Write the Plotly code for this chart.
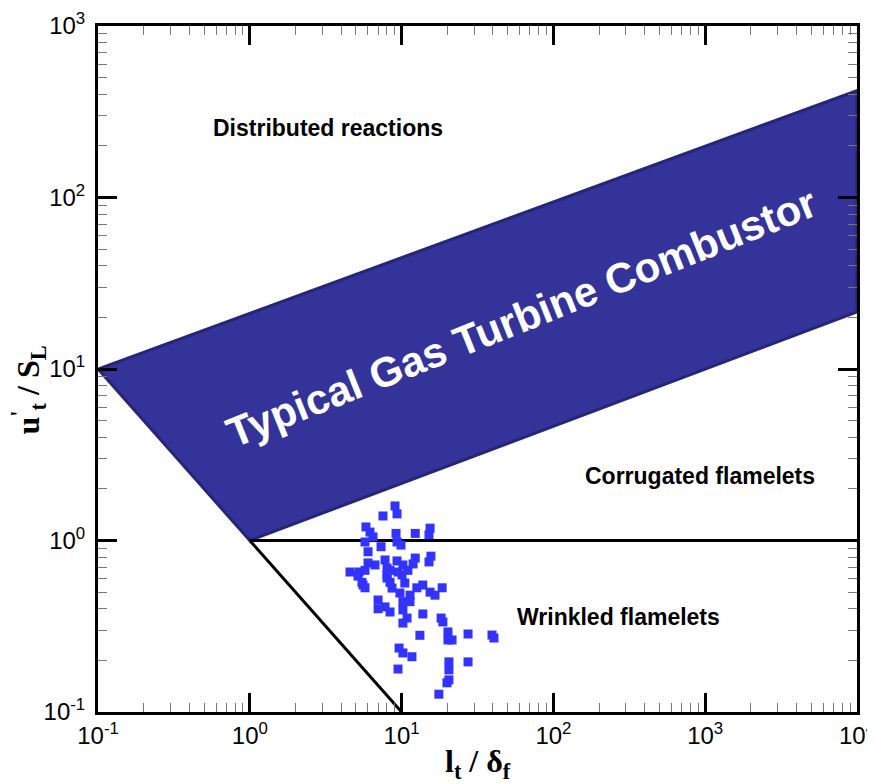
import plotly.graph_objects as go

# ---- data ----
region_x = [0.1, 1, 1e4, 1e4, 0.1]
region_y = [10, 1, 21.5, 420, 10]

flamelet_line_x = [1, 1e4]
flamelet_line_y = [1, 1]

wrinkled_line_x = [1, 10]
wrinkled_line_y = [1, 0.1]

pts_x = [9.05, 9.33, 7.54, 5.82, 6.19, 6.48, 9.19, 9.33, 12.3, 15.4, 15.15, 5.74, 7.32, 9.91,
         6.01, 12.3, 11.9, 15.6, 15.15, 6.01, 7.78, 8.02, 9.33, 6.68, 10.2, 11.0, 4.57, 5.24,
         5.74, 8.39, 9.47, 5.16, 5.48, 5.74, 8.02, 8.39, 10.06, 10.5, 12.6, 13.8, 15.4, 16.6,
         18.5, 7.0, 7.0, 7.78, 8.39, 9.75, 11.36, 11.36, 10.2, 10.2, 10.86, 10.2, 13.8, 18.2,
         18.7, 13.2, 20.2, 20.2, 21.5, 27.4, 39.4, 40.6, 9.62, 10.2, 11.7, 20.5, 20.5, 27.4,
         9.47, 20.5, 19.9, 17.6, 8.65, 5.57, 8.02]
pts_y = [1.59, 1.43, 1.39, 1.20, 1.12, 1.05, 1.10, 0.98, 1.10, 1.18, 1.08, 0.98, 0.92, 0.94,
         0.86, 0.79, 0.73, 0.81, 0.75, 0.74, 0.77, 0.69, 0.76, 0.72, 0.72, 0.67, 0.655, 0.655,
         0.67, 0.67, 0.655, 0.62, 0.57, 0.53, 0.63, 0.57, 0.63, 0.565, 0.53, 0.55, 0.50, 0.48,
         0.53, 0.45, 0.40, 0.41, 0.383, 0.494, 0.48, 0.44, 0.44, 0.394, 0.353, 0.33, 0.373, 0.353,
         0.335, 0.28, 0.293, 0.263, 0.263, 0.285, 0.281, 0.27, 0.236, 0.221, 0.21, 0.196, 0.176, 0.196,
         0.178, 0.154, 0.148, 0.127, 0.528, 0.55, 0.604]

x_tickvals = [0.1, 1, 10, 100, 1000, 10000]
x_ticktext = ["10<sup>-1</sup>", "10<sup>0</sup>", "10<sup>1</sup>", "10<sup>2</sup>",
              "10<sup>3</sup>", "10<sup>4</sup>"]
y_tickvals = [0.1, 1, 10, 100, 1000]
y_ticktext = ["10<sup>-1</sup>", "10<sup>0</sup>", "10<sup>1</sup>", "10<sup>2</sup>",
              "10<sup>3</sup>"]

minor_x = [k * 10.0 ** e for e in range(-1, 4) for k in range(2, 10)]
minor_y = [k * 10.0 ** e for e in range(-1, 3) for k in range(2, 10)]

fig = go.Figure()

fig.add_trace(go.Scatter(
    x=region_x, y=region_y, mode="lines", fill="toself",
    fillcolor="#333399", line=dict(color="#25257a", width=3),
    hoverinfo="skip", showlegend=False))

fig.add_trace(go.Scatter(
    x=flamelet_line_x, y=flamelet_line_y, mode="lines",
    line=dict(color="black", width=3), showlegend=False))
fig.add_trace(go.Scatter(
    x=wrinkled_line_x, y=wrinkled_line_y, mode="lines",
    line=dict(color="black", width=3), showlegend=False))

fig.add_trace(go.Scatter(
    x=pts_x, y=pts_y, mode="markers",
    marker=dict(symbol="square", size=9, color="#3333ff", line=dict(width=0)),
    showlegend=False))

axis_common = dict(
    type="log", showgrid=False, zeroline=False,
    showline=True, linewidth=3, linecolor="black", mirror="ticks",
    ticks="inside", ticklen=19, tickwidth=3, tickcolor="black",
    tickfont=dict(family="Liberation Sans, Arial", size=24, color="black"),
    ticklabeloverflow="allow", automargin=False,
)

fig.update_xaxes(
    **axis_common, range=[-1, 4], tickmode="array",
    tickvals=x_tickvals, ticktext=x_ticktext, ticklabelstandoff=0,
    minor=dict(tickmode="array", tickvals=minor_x, ticks="inside",
               ticklen=9, tickwidth=1, tickcolor="#777777"))
fig.update_yaxes(
    **axis_common, range=[-1, 3], tickmode="array",
    tickvals=y_tickvals, ticktext=y_ticktext, ticklabelstandoff=5,
    minor=dict(tickmode="array", tickvals=minor_y, ticks="inside",
               ticklen=9, tickwidth=1, tickcolor="#777777"))

label_font = dict(family="Liberation Sans, Arial", size=23, color="black")
fig.add_annotation(x=0.515, y=2.405, text="<b>Distributed reactions</b>",
                   showarrow=False, font=label_font)
fig.add_annotation(x=2.966, y=0.376, text="<b>Corrugated flamelets</b>",
                   showarrow=False, font=label_font)
fig.add_annotation(x=2.426, y=-0.446, text="<b>Wrinkled flamelets</b>",
                   showarrow=False, font=label_font)
fig.add_annotation(x=1.79, y=1.30, text="<b>Typical Gas Turbine Combustor</b>",
                   showarrow=False, textangle=-21.8,
                   font=dict(family="Liberation Sans, Arial", size=42, color="white"))

title_font = dict(family="Liberation Serif, Times New Roman", size=32, color="black")
fig.add_annotation(xref="paper", yref="paper", x=0.5, y=-0.043, yanchor="top",
                   text="<b>l<sub>t</sub> / δ<sub>f</sub></b>",
                   showarrow=False, font=title_font)
fig.add_annotation(xref="paper", yref="paper", x=-0.092, y=0.469, xanchor="center",
                   text="<b>u<sup>'</sup><sub>t</sub> / S<sub>L</sub></b>",
                   textangle=-90, showarrow=False, font=title_font)
fig.add_annotation(xref="paper", yref="paper", x=1.011, y=0.5175, xanchor="left",
                   text="<b>l</b>", showarrow=False,
                   font=dict(family="Liberation Serif, Times New Roman", size=34, color="black"))

# page body has an 8px margin; size and margins compensate for it
fig.update_layout(
    width=867, height=776,
    margin=dict(l=90, r=18, t=18, b=72, autoexpand=False),
    plot_bgcolor="white", paper_bgcolor="white",
    showlegend=False,
)

fig.write_html("out.html")
